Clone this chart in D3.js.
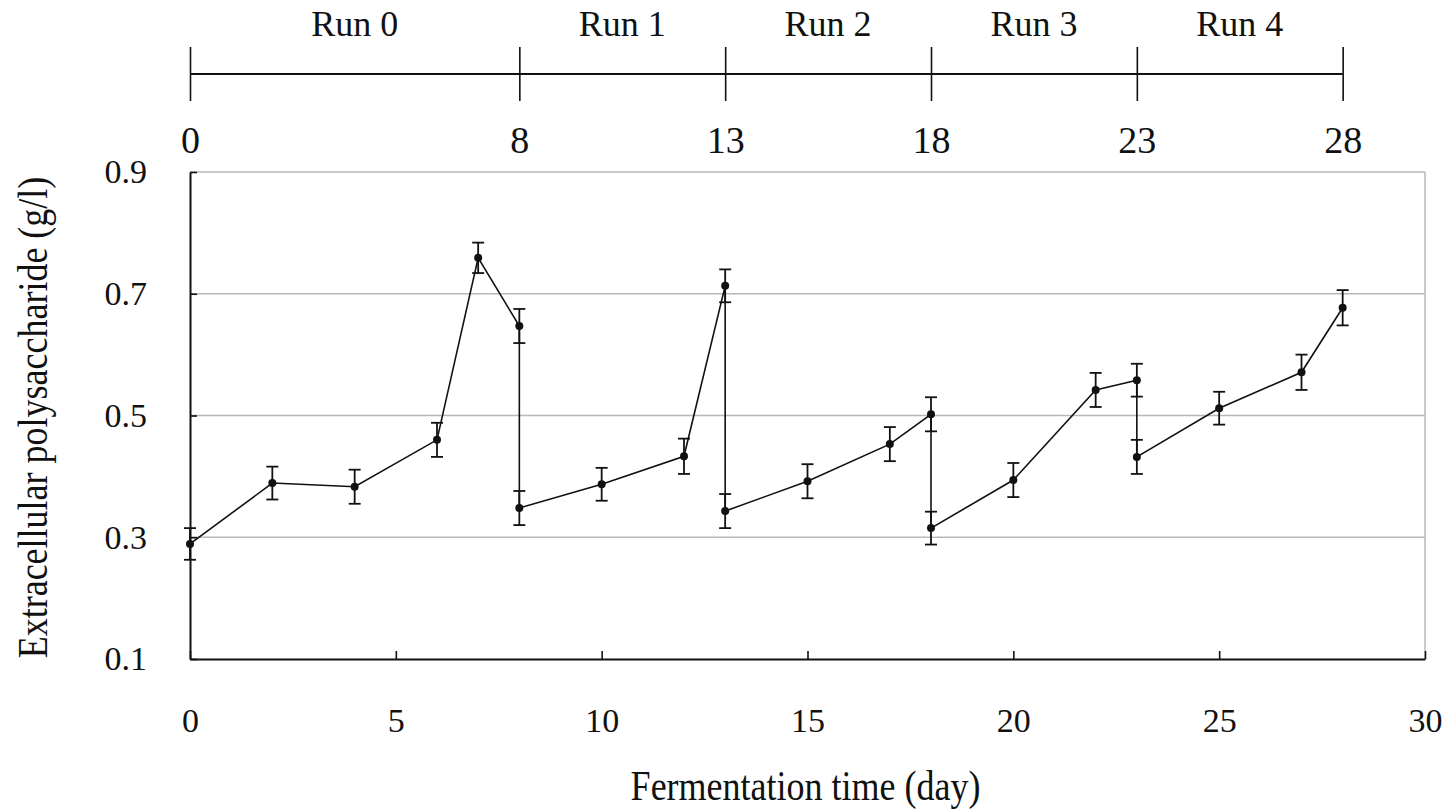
<!DOCTYPE html>
<head>
  <meta charset="utf-8">
  <script src="https://d3js.org/d3.v7.min.js"></script>
  <style>
    body { margin: 0; background: #fff; }
    text { font-family: "Liberation Serif", "Times New Roman", serif; fill: #111; }
  </style>
</head>
<body>
<svg width="1448" height="811"></svg>
<script>

  // days; at run changes the same day appears twice (end of one run, start of next)
  let days   = [0, 2, 4, 6, 7, 8, 8, 10, 12, 13, 13, 15, 17, 18, 18, 20, 22, 23, 23, 25, 27, 28];
  let eps    = [0.289, 0.389, 0.383, 0.460, 0.759, 0.647, 0.348, 0.387, 0.433, 0.713, 0.343,
                0.392, 0.453, 0.502, 0.315, 0.394, 0.542, 0.558, 0.432, 0.512, 0.571, 0.677];
  let errs   = [0.026, 0.027, 0.028, 0.028, 0.025, 0.028, 0.028, 0.027, 0.029, 0.027, 0.028,
                0.028, 0.028, 0.028, 0.027, 0.028, 0.028, 0.027, 0.028, 0.027, 0.029, 0.029];

  let runNames  = ["Run 0", "Run 1", "Run 2", "Run 3", "Run 4"];
  let runBounds = [0, 8, 13, 18, 23, 28];
  let xTicks = [0, 5, 10, 15, 20, 25, 30];
  let yTicks = [0.1, 0.3, 0.5, 0.7, 0.9];

  let svg = d3.select("svg"),
    mLeft = 190, mRight = 1425, mTop = 172, mBottom = 659;

  let x = d3.scaleLinear().domain([0, 30]).range([mLeft, mRight]);
  let y = d3.scaleLinear().domain([0.1, 0.9]).range([mBottom, mTop]);

  // grid lines + frame (gray)
  svg.append("g").selectAll("line")
    .data(yTicks.slice(1))
    .join("line")
    .attr("x1", mLeft).attr("x2", mRight)
    .attr("y1", d => y(d)).attr("y2", d => y(d))
    .attr("stroke", "#b8b8b8").attr("stroke-width", 1.5);
  svg.append("line")
    .attr("x1", mRight).attr("x2", mRight).attr("y1", mTop).attr("y2", mBottom)
    .attr("stroke", "#b8b8b8").attr("stroke-width", 1.5);

  // bottom axis, ticks pointing inward
  let xAxis = svg.append("g")
    .attr("transform", `translate(0,${mBottom})`)
    .call(d3.axisBottom(x).tickValues(xTicks).tickSizeInner(-8).tickSizeOuter(0).tickPadding(49).tickFormat(d3.format("d")));
  xAxis.selectAll("text").style("font-size", "34px").attr("fill", "#111");

  let yAxis = svg.append("g")
    .attr("transform", `translate(${mLeft},0)`)
    .call(d3.axisLeft(y).tickValues(yTicks).tickSizeInner(-7).tickSizeOuter(0).tickPadding(43).tickFormat(d3.format(".1f")));
  yAxis.selectAll("text").style("font-size", "34px").attr("fill", "#111");

  [xAxis, yAxis].forEach(a => {
    a.selectAll("path, line").attr("stroke", "#111").attr("stroke-width", 1.6);
    a.select(".domain").attr("stroke-width", 2);
  });

  // axis titles (glyphs in the original are slightly tall)
  svg.append("text")
    .attr("transform", `translate(${(mLeft + mRight) / 2 - 2},800) scale(1,1.2)`)
    .attr("text-anchor", "middle")
    .style("font-size", "36px")
    .text("Fermentation time (day)");
  svg.append("text")
    .attr("transform", `translate(47,${(mTop + mBottom) / 2 + 2}) rotate(-90) scale(1,1.15)`)
    .attr("text-anchor", "middle")
    .style("font-size", "36px")
    .text("Extracellular polysaccharide (g/l)");

  // run timeline on top
  let runY = 74;
  let run = svg.append("g")
    .attr("transform", `translate(0,${runY})`)
    .call(d3.axisBottom(x).tickValues(runBounds).tickSizeInner(27).tickSizeOuter(0).tickPadding(25).tickFormat(d3.format("d")));
  run.select(".domain").remove();
  run.selectAll(".tick line").attr("y1", -27).attr("stroke", "#111").attr("stroke-width", 1.6);
  run.selectAll("text").style("font-size", "38px").attr("fill", "#111");
  run.append("line")
    .attr("x1", x(0)).attr("x2", x(28))
    .attr("stroke", "#111").attr("stroke-width", 2);

  svg.append("g").selectAll("text")
    .data(runNames)
    .join("text")
    .attr("x", (d, i) => x((runBounds[i] + runBounds[i + 1]) / 2))
    .attr("y", 36)
    .attr("text-anchor", "middle")
    .style("font-size", "36px")
    .text(d => d);

  // data
  let pts = days.map((d, i) => ({ day: d, v: eps[i], e: errs[i] }));

  let line = d3.line().x(d => x(d.day)).y(d => y(d.v));
  svg.append("path")
    .datum(pts)
    .attr("d", line)
    .attr("fill", "none")
    .attr("stroke", "#111")
    .attr("stroke-width", 1.6);

  let eb = svg.append("g").attr("stroke", "#111").attr("stroke-width", 1.8);
  eb.selectAll(".bar").data(pts).join("line").attr("class", "bar")
    .attr("x1", d => x(d.day)).attr("x2", d => x(d.day))
    .attr("y1", d => y(d.v - d.e)).attr("y2", d => y(d.v + d.e));
  eb.selectAll(".capT").data(pts).join("line").attr("class", "capT")
    .attr("x1", d => x(d.day) - 6).attr("x2", d => x(d.day) + 6)
    .attr("y1", d => y(d.v + d.e)).attr("y2", d => y(d.v + d.e));
  eb.selectAll(".capB").data(pts).join("line").attr("class", "capB")
    .attr("x1", d => x(d.day) - 6).attr("x2", d => x(d.day) + 6)
    .attr("y1", d => y(d.v - d.e)).attr("y2", d => y(d.v - d.e));

  svg.append("g").selectAll("circle")
    .data(pts)
    .join("circle")
    .attr("cx", d => x(d.day))
    .attr("cy", d => y(d.v))
    .attr("r", 4)
    .attr("fill", "#111");

</script>
</body>
